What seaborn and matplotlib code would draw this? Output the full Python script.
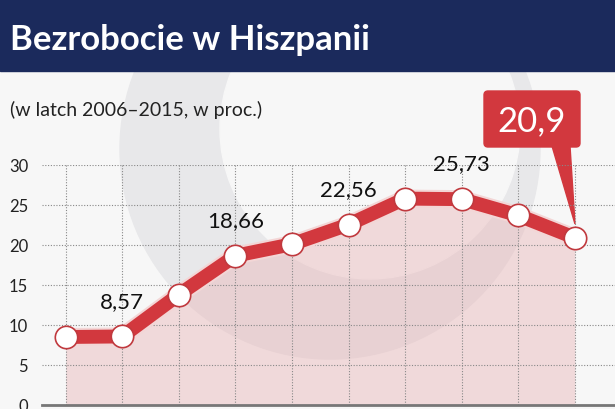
import matplotlib
matplotlib.use("Agg")
import matplotlib.pyplot as plt
import seaborn as sns
import pandas as pd
from matplotlib.patches import Rectangle, Circle, FancyBboxPatch, Polygon

years = list(range(2006, 2016))
values = [8.5, 8.57, 13.8, 18.66, 20.1, 22.56, 25.8, 25.73, 23.7, 20.9]
labels = {1: "8,57", 3: "18,66", 5: "22,56", 7: "25,73"}
yticks = [0, 5, 10, 15, 20, 25, 30]

sns.set_style("white")
plt.rcParams['font.family'] = ['Lato', 'DejaVu Sans']
df = pd.DataFrame({"i": range(len(years)), "v": values})

fig = plt.figure(figsize=(6.15, 4.1), dpi=100)
fig.patch.set_facecolor("#f7f7f7")
bg = fig.add_axes([0, 0, 1, 1], zorder=-5)
bg.set_xlim(0, 615); bg.set_ylim(410, 0); bg.axis("off")
bg.add_patch(Circle((330, 150), 210, color="#e8e8ea", zorder=0))
bg.add_patch(Circle((370, 130), 150, color="#f7f7f7", zorder=1))
bg.add_patch(Rectangle((0, 0), 615, 72, color="#1b2a5c", zorder=2))
bg.text(10, 40, "Bezrobocie w Hiszpanii", color="white", fontsize=25, fontweight="bold", va="center", zorder=3)
bg.text(10, 110, "(w latch 2006–2015, w proc.)", color="#222222", fontsize=14, va="center", zorder=3)

ax = fig.add_axes([42/615, 4/410, 573/615, 240/410])
ax.set_facecolor("none")
ax.set_xlim(-0.42, 9.71)
ax.set_ylim(0, 30)
ax.fill_between(df["i"], df["v"], 0, color="#e8b5b7", alpha=0.45, lw=0)
for y in yticks[1:]:
    ax.axhline(y, color="#888888", lw=0.8, ls=(0, (1, 1.5)), zorder=1)
for i in range(len(years)):
    ax.axvline(i, color="#888888", lw=0.8, ls=(0, (1, 1.5)), zorder=1)
sns.lineplot(data=df, x="i", y="v", ax=ax, color="#f3d6d6", lw=13, zorder=3)
sns.lineplot(data=df, x="i", y="v", ax=ax, color="#d2383e", lw=10, zorder=4)
ax.scatter(df["i"], df["v"], s=260, color="white", edgecolor="#c0393e", lw=1.2, zorder=5)
for i, t in labels.items():
    ax.text(i, values[i] + 3.2, t, ha="center", va="bottom", fontsize=16, color="#111111")
ax.set_yticks(yticks)
ax.set_yticklabels([str(y) for y in yticks], fontsize=12, color="#222222")
ax.set_xticks([])
ax.set_xlabel(""); ax.set_ylabel("")
ax.tick_params(axis="y", length=0, pad=10)
for s in ["top", "right", "left"]:
    ax.spines[s].set_visible(False)
ax.spines["bottom"].set_color("#777777"); ax.spines["bottom"].set_linewidth(2)

bg.add_patch(FancyBboxPatch((484, 92), 96, 56, boxstyle="round,pad=0,rounding_size=4", color="#d2383e", zorder=3))
bg.add_patch(Polygon([[552, 147], [570, 147], [575, 225]], color="#d2383e", zorder=3))
bg.text(532, 121, "20,9", color="white", fontsize=25, ha="center", va="center", zorder=4)

fig.savefig("out.png", dpi=100, facecolor=fig.get_facecolor())
